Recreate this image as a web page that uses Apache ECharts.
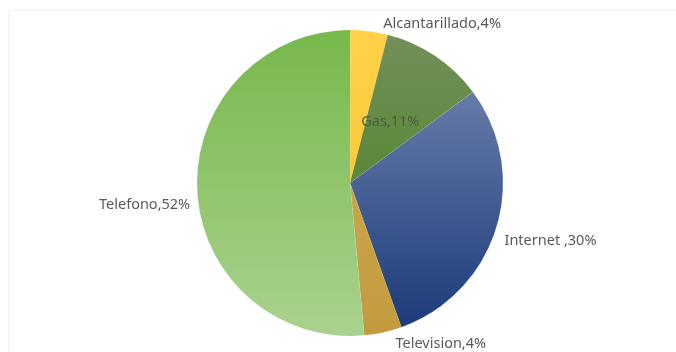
<!DOCTYPE html>
<html>
<head>
<meta charset="utf-8">
<script src="https://cdn.jsdelivr.net/npm/echarts@6/dist/echarts.min.js"></script>
<style>
  html, body { margin: 0; padding: 0; background: #fff; }
  #chart { width: 676px; height: 352px; }
</style>
</head>
<body>
<div id="chart"></div>
<script>
// datos del gráfico
const servicios = ['Alcantarillado', 'Gas', 'Internet ', 'Television', 'Telefono'];
const porcentajes = [4, 11, 30, 4, 52];

// colores (degradado arriba -> abajo)
const coloresTop = ['#ffd24a', '#738f5a', '#667ba8', '#cba54c', '#76b84a'];
const coloresBottom = ['#fbc93a', '#5a8838', '#1c3b7a', '#c29a3e', '#aad28f'];

// ajuste fino de etiquetas, parecido a Excel
const desplazamientos = [[7, -5], [-4, 5], [4, 13], [5, 10], [2, 15]];

const chart = echarts.init(document.getElementById('chart'));

const data = servicios.map((nombre, i) => {
    const item = {
        name: nombre,
        value: porcentajes[i],
        itemStyle: {
            color: {
                type: 'linear', x: 0, y: 0, x2: 0, y2: 1,
                colorStops: [
                    { offset: 0, color: coloresTop[i] },
                    { offset: 1, color: coloresBottom[i] }
                ]
            }
        },
        label: { offset: desplazamientos[i] }
    };
    if (nombre === 'Gas') {
        item.label.position = 'inside';
        item.label.color = '#4d5a48';
    }
    return item;
});

chart.setOption({
    animation: false,
    graphic: [{
        type: 'rect',
        shape: { x: 9, y: 10, width: 700, height: 360 },
        style: { fill: 'none', stroke: '#f0f0f0', lineWidth: 1 },
        silent: true
    }],
    series: [{
        type: 'pie',
        center: [350, 183],
        radius: 153,
        startAngle: 90,
        clockwise: true,
        data: data,
        itemStyle: { borderColor: 'rgba(255,255,255,0.15)', borderWidth: 0.5 },
        label: {
            show: true,
            position: 'outside',
            formatter: '{b},{c}%',
            fontFamily: 'Noto Sans',
            fontSize: 14.5,
            color: '#595959'
        },
        labelLine: { show: false, length: 2, length2: 2 },
        emphasis: { disabled: true }
    }]
});
</script>
</body>
</html>
